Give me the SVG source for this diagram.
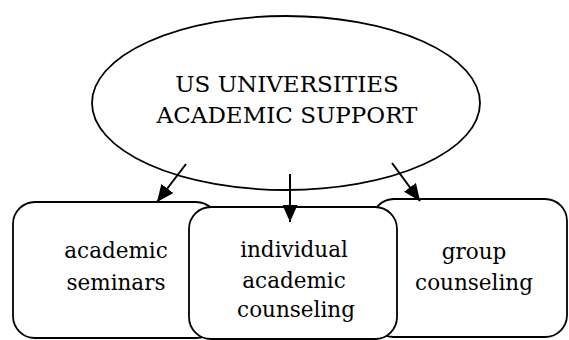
<svg xmlns="http://www.w3.org/2000/svg" width="569" height="340" viewBox="0 0 569 340">
<style>
.shape{fill:#fff;stroke:#000;stroke-width:1.8}
.conn{stroke:#000;stroke-width:2;fill:none}
.t{font-family:'DejaVu Serif',serif;font-size:21.5px;fill:#000;text-anchor:middle}
.h{font-size:23px}
</style>
<defs>
<marker id="ah" markerUnits="userSpaceOnUse" markerWidth="17" markerHeight="15" refX="17" refY="7.5" orient="auto">
<path d="M0,0 L17,7.5 L0,15 Z" fill="#000"/>
</marker>
</defs>
<rect width="569" height="340" fill="#fff"/>
<g id="root">
<ellipse class="shape" cx="286" cy="103" rx="194" ry="87"/>
<text class="t h" x="287" y="92">US UNIVERSITIES</text>
<text class="t h" x="287" y="123">ACADEMIC SUPPORT</text>
</g>
<g id="seminars">
<rect class="shape" x="13" y="202" width="205" height="136" rx="22" ry="22"/>
<text class="t" x="116" y="258">academic</text>
<text class="t" x="116" y="290">seminars</text>
</g>
<g id="group">
<rect class="shape" x="372" y="199" width="195" height="138" rx="22" ry="22"/>
<text class="t" x="474" y="259">group</text>
<text class="t" x="474" y="290">counseling</text>
</g>
<g id="individual">
<rect class="shape" x="189" y="207" width="208" height="132" rx="22" ry="22"/>
<text class="t" x="294" y="257">individual</text>
<text class="t" x="294" y="288">academic</text>
<text class="t" x="296" y="317">counseling</text>
</g>
<g id="connectors">
<line class="conn" x1="186" y1="164" x2="157" y2="202" marker-end="url(#ah)"/>
<line class="conn" x1="290" y1="174" x2="290" y2="222" marker-end="url(#ah)"/>
<line class="conn" x1="392" y1="163" x2="420" y2="201" marker-end="url(#ah)"/>
</g>
</svg>
